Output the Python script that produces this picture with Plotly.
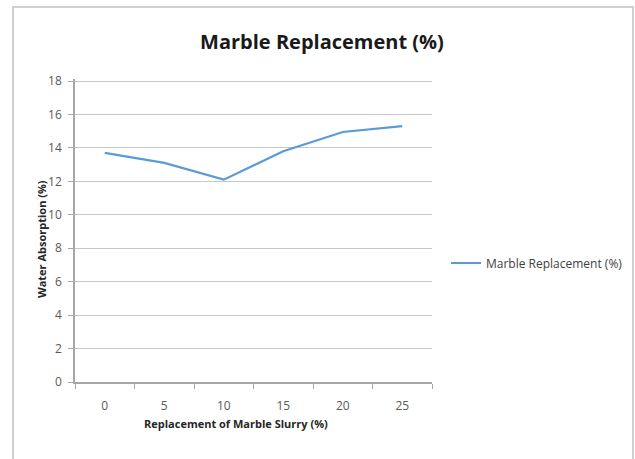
import plotly.graph_objects as go

categories = ["0", "5", "10", "15", "20", "25"]
water_absorption = [13.7, 13.1, 12.1, 13.8, 14.95, 15.3]
series_name = "Marble Replacement (%)"
y_ticks = [0, 2, 4, 6, 8, 10, 12, 14, 16, 18]

W, H = 635, 459
L, R, T, B = 75, 203, 79, 77
pw, ph = W - L - R, H - T - B
ymax = 18 + 2 / (301 / 18)

def px(x):
    return (x - L) / pw

def py(y):
    return (H - B - y) / ph

fig = go.Figure()
fig.add_trace(go.Scatter(
    x=categories, y=water_absorption, mode="lines", name=series_name,
    line=dict(color="#5b9bd5", width=2.2), showlegend=True,
))

fig.update_layout(
    width=W, height=H,
    margin=dict(l=L, r=R, t=T, b=B, autoexpand=False),
    paper_bgcolor="white", plot_bgcolor="white",
    font=dict(family="Open Sans, Liberation Sans", color="#595959"),
    title=dict(text="<b>Marble Replacement (%)</b>", x=322 / W, xanchor="center",
               y=1 - 42 / H, yanchor="middle",
               font=dict(size=20, color="#1a1a1a", family="Open Sans")),
    xaxis=dict(
        type="category", range=[-0.5, 5.5], tickson="boundaries",
        ticks="outside", ticklen=5, tickcolor="#a6a6a6",
        ticklabelstandoff=12,
        showline=True, linecolor="#a6a6a6", linewidth=1.5,
        showgrid=False, zeroline=False,
        tickfont=dict(size=12, color="#595959", family="Open Sans"),
    ),
    yaxis=dict(
        range=[0, ymax], tickvals=y_ticks, ticks="outside", ticklen=5,
        ticklabelstandoff=4,
        tickcolor="#a6a6a6", showline=True, linecolor="#a6a6a6", linewidth=1.5,
        showgrid=True, gridcolor="#c8c8c8", gridwidth=1.3, zeroline=False,
        tickfont=dict(size=12, color="#595959", family="Open Sans"),
    ),
    legend=dict(x=px(446), y=py(263), xanchor="left", yanchor="middle",
                font=dict(size=12, color="#404040", family="Open Sans"),
                itemwidth=30, bgcolor="rgba(0,0,0,0)"),
    annotations=[
        dict(text="<b>Replacement of Marble Slurry (%)</b>", xref="paper", yref="paper",
             x=px(236), y=py(423), xanchor="center", yanchor="middle", showarrow=False,
             font=dict(size=11, color="#262626", family="Open Sans")),
        dict(text="<b>Water Absorption (%)</b>", xref="paper", yref="paper",
             x=px(42), y=py(239), xanchor="center", yanchor="middle", showarrow=False,
             textangle=-90,
             font=dict(size=11, color="#262626", family="Open Sans")),
    ],
    shapes=[
        dict(type="path", xref="paper", yref="paper",
             path=f"M {px(13)} {py(470)} L {px(13)} {py(7)} L {px(633)} {py(7)} L {px(633)} {py(470)}",
             line=dict(color="#d0d0d0", width=2)),
    ],
)

fig.write_html("out.html")
